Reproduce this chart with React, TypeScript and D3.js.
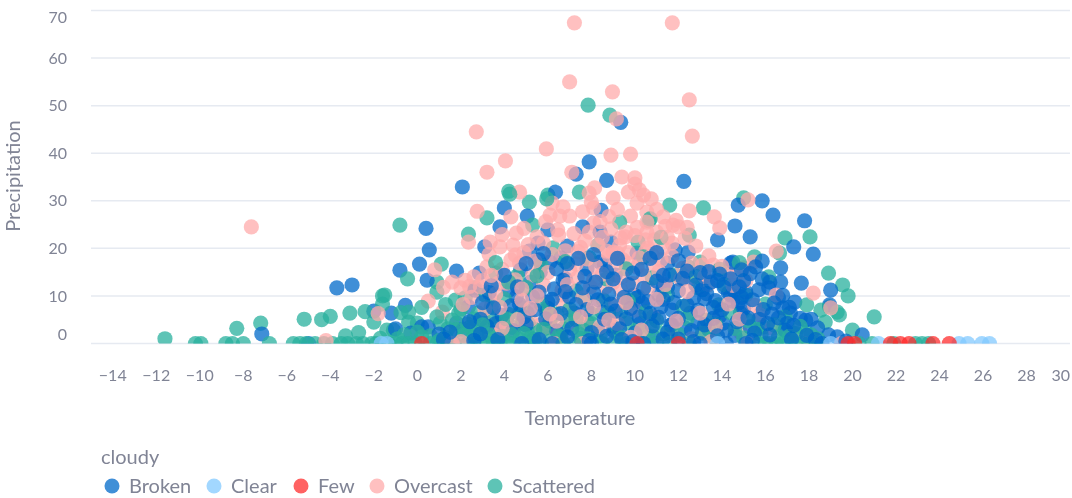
import React from 'react';
import * as d3 from 'd3';

const WIDTH = 1072;
const HEIGHT = 498;

// [temperature, precipitation]
const broken: number[][] = [
  [9.35, 46.5], [7.9, 38.2], [7.3, 35.6], [8.7, 34.3], [2.07, 32.9], [12.25, 34.1], [6.35, 31.8], [4.0, 28.5], [8.45, 28],
  [0.4, 24.2], [3.8, 24.5], [14.75, 29.1], [15.85, 30], [16.35, 27], [17.8, 25.8], [14.6, 24.7], [15.3, 22.4], [13.8, 21.8],
  [17.3, 20.3], [18.2, 18.8], [0.55, 19.7], [3.1, 20.3], [-0.8, 15.4], [1.8, 15.2], [0.1, 16.7], [2.85, 14.8], [-3.7, 11.7],
  [-3, 12.3], [-0.55, 8], [-1.2, 6.4], [-2, 6.8], [-7.15, 2], [16.7, 15.9], [16.7, 12.9], [17.65, 12.7], [17.35, 8.7],
  [18.95, 8.1], [5.05, 26.8], [0.45, 13.3], [6.0, 23.9], [7.6, 24.5], [8.4, 23.4], [8.9, 21.3], [5.55, 21.1], [5.15, 19.4],
  [6.9, 20.5], [6.1, 17.1], [5.6, 17.6], [6.6, 18], [8.4, 17.1], [8.6, 16.6], [7.8, 15.7], [5.65, 15], [4.75, 15.5],
  [6.8, 13.6], [5.2, 12.9], [9.1, 14.4], [10.1, 19], [11.85, 19.7], [11.5, 16.9], [11.5, 11.9], [11.1, 10.2], [9.95, 10.2],
  [4.2, 11.2], [4.55, 9.8], [5.3, 9.8], [2.35, 7.7], [2.65, 11.2], [1.8, 4.3], [2.1, 3], [0.2, 3.5], [0.5, 3.5],
  [-0.3, 2.2], [6, 7.4], [7.2, 6.4], [8.5, 6.6], [7.8, 4.5], [10.25, 4.3], [10.15, 9.8], [11.2, 7.7], [11.7, 7], [9, 2.8],
  [8.3, 2.8], [7.5, 1.1], [5.35, 0.9], [10.85, 1.4], [11.7, 3.9], [11.3, 11.9], [10.35, 8.5], [6, 8.7], [6.7, 13.3],
  [14.4, 16.9], [12.45, 19.2], [12.7, 9.6], [12.55, 6.4], [14.3, 10.6], [14.05, 4.3], [12.3, 3.3], [11.65, 3.9], [15.85, 13.6],
  [16.2, 12.9], [19, 11.2], [16.6, 9.6], [16.8, 7.5], [17.15, 6.4], [17.85, 4.9], [17.6, 5.3], [14.4, 10.2], [14.5, 17.1],
  [15.55, 16.1], [15.85, 17.3], [14.85, 6.4], [15.3, 3.5], [16.15, 11.7], [14.55, 11.2], [14.75, 8.5], [19.3, 1.4], [20.45, 1.8],
  [18.9, 1.8], [16.9, 2.8], [13.2, 9.4], [13.6, 7.6], [13.9, 5.8], [14.9, 9.7], [15.1, 10.8], [13.1, 11.3], [12.9, 4.4],
  [13.4, 2.9], [14.6, 1.7], [15.7, 5.1], [16.3, 6.2], [17, 4.2], [18.1, 5.1], [18.4, 3.3], [3.6, 4.2], [4.3, 7.9], [4.9, 5.6],
  [6.3, 11.5], [7, 9.8], [8.1, 10.7], [8.9, 8.3], [9.6, 5.2], [10.7, 6.3], [3, 8.6], [3.3, 10.7], [-5, 0], [-1, 3.1], [1, 2],
  [2.9, 5.1], [3.2, 3.6], [3.9, 5.9], [4.4, 2.7], [4.7, 8.2], [5, 3.9], [5.4, 7.1], [5.6, 10.8], [5.9, 5.2], [6.2, 9.3], [6.4, 2.6],
  [6.6, 6.3], [6.8, 10.9], [7.1, 3.2], [7.3, 8.2], [7.6, 11.7], [7.8, 7.1], [8, 2.3], [8.2, 12.9], [8.3, 9.2], [8.6, 5.1], [8.8, 10.4],
  [9, 13.6], [9.1, 6.8], [9.3, 3.1], [9.5, 9.7], [9.7, 12.4], [9.8, 7.4], [10, 2.2], [10.2, 5.6], [10.4, 11.6], [10.6, 8.8], [10.8, 3.7],
  [11, 13.1], [11.1, 5.5], [11.3, 9.3], [11.5, 2.4], [11.6, 14.4], [11.8, 8.6], [12, 11.1], [12, 5.3], [12.2, 13.7], [12.4, 8.1],
  [12.6, 2.7], [12.8, 12.3], [12.9, 7], [13, 14.9], [13.2, 3.9], [13.3, 10.5], [13.5, 12.9], [13.6, 5.3], [13.7, 9], [13.9, 14.6],
  [14, 7.1], [14.1, 11.8], [14.2, 2.8], [14.4, 13.6], [14.5, 8.9], [14.7, 4.6], [14.8, 11.9], [15, 7.4], [15, 13.2], [15.2, 5.4],
  [15.4, 9.2], [15.5, 2.2], [15.7, 11.3], [15.9, 7.1], [16.1, 4.2], [16.4, 8.5], [16.6, 5.4], [16.8, 10.1], [17.1, 7.6], [17.3, 3.8],
  [3.4, 12.1], [4, 14.3], [4.6, 11.9], [5, 16.8], [5.8, 18.9], [6.4, 15.7], [6.9, 16.8], [7.4, 17.9], [7.7, 14.1], [8.1, 18.7],
  [8.7, 15.1], [9.2, 17.9], [9.9, 14.8], [10.3, 15.6], [10.7, 17.9], [11, 19.1], [11.3, 14.3], [12, 17.4], [12.4, 15.2], [13.4, 15.1],
  [13.8, 13.2], [14.9, 15.5], [15.3, 14.7], [3.5, 7.5], [2.4, 4.6], [2.9, 2], [1.5, 2.4], [1.2, 0.9], [3.7, 0.8], [5.6, 0.8],
  [6.9, 1.4], [7.9, 0.6], [8.7, 1.5], [9.9, 0.4], [11.3, 0.9], [12.7, 0.4], [13.8, 1.6], [15.4, 0.6], [16.2, 1.8], [17.2, 0.9],
  [17.9, 1.7], [18.3, 0.8], [2.6, 0.6], [4.8, 0], [6.2, 0], [8, 0], [9.4, 0.8], [10.4, 0], [12, 0.9], [13, 0], [14.2, 0], [15.1, 0],
  [19.7, 0.5], [18.6, 0],
];

const clear: number[][] = [
  [-1.66, 0], [-1.4, 0], [13.8, 0], [19, 0], [21.2, 0], [24.9, 0], [25.3, 0], [25.95, 0], [26.3, 0],
];

const few: number[][] = [
  [0.2, 0], [10.1, 0], [12, 0], [19.8, 0], [20.1, 0], [21.75, 0], [22.2, 0], [22.6, 0], [23.7, 0], [24.45, 0],
];

const overcast: number[][] = [
  [7.22, 67.4], [11.72, 67.4], [7, 55], [8.97, 52.9], [12.5, 51.2], [12.64, 43.6], [2.71, 44.5], [5.93, 40.9], [4.05, 38.4],
  [3.2, 36], [8.9, 39.6], [9.8, 39.8], [-7.63, 24.5], [9.15, 47.2], [7.1, 36], [9.4, 35], [10, 34.8], [10, 33.5], [8.15, 32.7],
  [4.7, 31.8], [2.75, 27.8], [9.7, 31.8], [9, 30.6], [7.9, 31.6], [8, 29.7], [8.1, 28.5], [10.1, 29.5], [10.75, 30.4],
  [12.5, 27.9], [13.65, 26.6], [13.9, 24.3], [10.55, 27.6], [9.8, 26.8], [11.3, 26.6], [12, 24.5], [12.4, 24.4], [11.4, 24.6],
  [10.55, 23.4], [9.55, 22.4], [8.1, 25.3], [4.3, 26.6], [4.55, 23.2], [6.2, 29.5], [6.7, 28.7], [6.55, 26.8], [6.1, 27],
  [6.45, 23.9], [2.35, 21.3], [3.8, 20.3], [3.35, 21.3], [4.4, 20.7], [4.3, 17.6], [4.5, 18.6], [3.2, 16.1], [2.2, 13.3], [2, 11.7],
  [0.5, 8.9], [0.8, 15.5], [1.15, 6.6], [3.45, 9.1], [3.05, 4.9], [10.55, 25.5], [11.75, 24.9], [9.35, 22.2], [9, 19.2],
  [9.45, 17.6], [10.1, 16.1], [10.85, 16.5], [11.3, 20.1], [10.6, 20.1], [7, 15.5], [7.35, 13.8], [7.95, 11.9], [8.65, 11.9],
  [9.35, 11.2], [6.65, 11.2], [5.8, 12.3], [6.7, 8.1], [7.7, 4.3], [7.05, 3.9], [6.1, 3.5], [5.65, 3.9], [6.6, 1.8], [10, 7],
  [10.6, 11.7], [11.65, 1.8], [6.65, 10.2], [7.8, 4.1], [6, 3.3], [11.65, 2.2], [13.25, 2.2], [9.2, 19], [9.65, 16.9], [10.5, 19.4],
  [13.35, 12.3], [13.1, 16.5], [13.6, 16.5], [14.25, 14.8], [12.55, 13.8], [9.1, 8.1], [10.85, 5.6], [16.5, 19.4], [18.2, 10.6],
  [15.45, 17.1], [15, 15.9], [14.6, 14], [14.95, 6.6], [15.75, 6], [14.85, 2.4], [17.25, 2.2], [16.3, 3.3], [19, 7.5], [15.2, 30.2],
  [5.1, 20.8], [5.5, 22.4], [3.9, 22.9], [4.9, 24.2], [3, 13.2], [2.6, 14], [3.7, 12.6], [4.5, 13.4], [2.5, 9.7], [3.1, 7.3],
  [1.2, 11.8], [7.4, 19.3], [7.7, 21.6], [8.3, 20.7], [8.8, 18.6], [8.5, 22.3], [10, 22.7], [10.9, 21.8], [11.7, 21.1], [11.1, 15.1],
  [12.2, 15.8], [5.2, 5], [4.1, 3.8], [3.5, 1.8], [8.4, 3.5], [9.2, 4.2], [12.6, 1],
  [3.3, 18.7], [3.9, 15.6], [4.1, 12.7], [4.7, 16.9], [4.9, 19.1], [5.3, 14.4], [5.4, 17.3], [5.8, 21.1], [6, 14.9], [6.2, 18.7],
  [6.5, 22.8], [6.8, 19.5], [6.9, 12.4], [7.2, 23.1], [7.3, 16.7], [7.5, 20.2], [7.6, 9.6], [7.8, 17.8], [7.9, 23.4], [8.1, 13.4],
  [8.2, 16.2], [8.4, 25.6], [8.5, 14.6], [8.7, 19.4], [8.9, 24.1], [9, 12.8], [9.1, 16.5], [9.3, 20.6], [9.4, 14], [9.6, 23.4],
  [9.7, 19.1], [9.9, 12.6], [10.1, 24.4], [10.2, 18], [10.4, 14.2], [10.5, 21.8], [10.8, 18.6], [11, 23.4], [11.2, 17.6], [11.4, 12.4],
  [11.5, 22.3], [11.7, 18.3], [11.9, 25.9], [12.1, 13.5], [12.3, 22.1], [12.6, 16.9], [12.8, 20.5], [13.2, 14.1], [13.4, 18.4], [14, 16.2],
  [14.5, 12.2], [15.1, 13.2], [4.8, 9.1], [5.2, 7.4], [5.5, 10], [6.1, 6.2], [6.4, 4.7], [7.5, 5.6], [8.1, 7.7], [8.8, 4.9], [9.6, 8.6],
  [10.3, 2.8], [11, 9.3], [11.9, 4.7], [12.4, 10.9], [13, 6.4], [13.7, 3.6], [14.3, 8.3], [14.8, 5.1], [15.5, 8], [16.5, 10.2], [3.9, 3.2],
  [4.6, 5], [2.9, 11.9], [3.6, 10.4], [2.1, 8.2], [1.6, 12.9], [5.9, 25.6], [7, 26.8], [7.6, 27.7], [9.2, 28.2], [8.8, 26.7], [10.4, 31.2],
  [10.2, 32.3], [11, 28.2], [2.4, 12], [3.4, 14.3], [4.8, 11.5], [3.8, 7.6], [-4.2, 0.6], [-1.8, 6.3], [1.6, 0], [2, 0.4], [6.3, 0],
  [7.6, 0], [9.8, 1.3], [13.5, 0.4], [17.9, 0], [15.2, 0], [19.5, 0],
];

const scattered: number[][] = [
  [7.85, 50.1], [8.85, 48], [4.2, 32], [7.45, 31.8], [6, 31.2], [5.15, 29.7], [15, 30.6], [11.6, 29.1], [13.15, 28.5], [12.5, 22.8],
  [2.35, 23], [-0.8, 24.9], [3.2, 26.4], [10.65, 25.8], [16.9, 22.2], [18.05, 22.4], [16.65, 19], [18.9, 14.8], [19.55, 12.3],
  [19.8, 10], [18.95, 7.7], [19.4, 6], [21, 5.6], [20, 2.8], [-11.6, 1], [-8.3, 3.2], [-7.2, 4.3], [-5.2, 5.1], [-4.4, 5], [-4, 5.7],
  [-3.1, 6.4], [-2.4, 6.7], [-1.6, 8.3], [-1.6, 10], [-2, 4.5], [1.1, 16.7], [-0.45, 13.6], [0.9, 12.9], [0.9, 10.8], [-1.5, 10.2],
  [5.3, 24.9], [4.25, 31.4], [5.95, 30.4], [9.3, 25.5], [10.7, 26.2], [3.6, 14.8], [1.75, 9.1], [2.2, 9.6], [2.65, 11.7], [-0.4, 6.6],
  [-0.75, 6.5], [-0.4, 4.5], [-1.4, 2.8], [-1.1, 2.8], [0, 4.3], [1.05, 4.3], [4.85, 7.5], [5.95, 6.6], [7.7, 9.1], [8.55, 9.1],
  [6.25, 20.1], [8.3, 20.7], [10.15, 21.3], [11.85, 14.4], [9.95, 9.1], [3.8, 2.8], [3.2, 2.8], [2.75, 2.4], [4.85, 4.5], [5.05, 2.8],
  [5.95, 3.5], [9, 3.5], [9.65, 4.3], [15.5, 18.2], [15.1, 10.2], [18.55, 7], [19.3, 6.6], [17.9, 8.1], [16, 8.3], [18.75, 4.5],
  [16.15, 14], [15.9, 3.5], [16.8, 2.8], [17.85, 2.4], [6, 7], [5.05, 6.4], [13.85, 8.1], [13.3, 4.9], [9.35, 6.6], [12.45, 16.1],
  [10.8, 13.8], [13, 17.1], [12.9, 11.7], [4.6, 14.2], [5.7, 16.4], [7.3, 11], [3.4, 5.6], [4.2, 6.1], [2.6, 5.2], [1.9, 6.4],
  [0.6, 1.6], [1.4, 3.1], [6.9, 4.8], [8, 6.3], [10.7, 3.3], [11.3, 2.1], [12.2, 7.8], [14.1, 12.4], [16.9, 5.6], [17.4, 2.1],
  [0.2, 7.6], [0.9, 5.6], [1.3, 8.2], [1.6, 4.9], [2, 7.2], [2.4, 3.4], [2.8, 6.4], [3.1, 10.2], [3.4, 7.8], [3.7, 4.3], [4, 9.4],
  [4.4, 3.4], [4.7, 6.3], [5.1, 4.2], [5.4, 2.9], [5.7, 8.2], [6.1, 4.7], [6.4, 6.2], [6.7, 3.1], [7, 7.2], [7.3, 5], [7.6, 2.9],
  [8, 4.2], [8.4, 1.6], [8.8, 6.4], [9.2, 1.9], [9.7, 8.9], [10.1, 3], [10.5, 6.6], [11, 4.8], [11.5, 10.2], [12, 1.9], [12.4, 5.2],
  [13.1, 2.2], [13.7, 4], [14.4, 6.5], [15.2, 4.8], [15.8, 1.9], [16.4, 3.9], [17.1, 1.5], [18.1, 1.8], [3.6, 17], [4.2, 12.9], [5, 11.8],
  [5.5, 14.2], [6.8, 17.2], [7.9, 18], [8.7, 13.6], [9.6, 15.7], [10.4, 18.2], [11.2, 22.3], [12.8, 14.1], [13.9, 15.6], [14.8, 17],
  [1.8, 2.9], [2.3, 4.1], [3, 3.9], [4.1, 5.2], [3.3, 1.8], [4.9, 2.1], [5.8, 3], [6.6, 1.2], [7.8, 1], [9.4, 1.2], [10.6, 1.6], [13.6, 1.4],
  [14.6, 3.2], [15, 1.2], [15.6, 3], [16.6, 1.4], [17.6, 3.6], [18.4, 1], [1, 0.6], [0, 2.4], [-0.6, 1.8],
  [-3.3, 1.6], [-2.7, 2.3], [-1.7, 1.1], [-0.9, 1], [0.2, 1.4], [2.1, 1.7], [3.5, 1.1], [4.3, 1.9], [5.2, 1.2], [6.5, 1.6], [7.4, 2.1],
  [1.3, 1.2], [2.6, 1.4], [3.9, 1.5], [4.7, 0.8], [5.4, 0.6], [6.1, 0.5],
  [-10.2, 0], [-9.95, 0], [-8.8, 0], [-8.5, 0], [-8, 0], [-6.8, 0], [-5.7, 0], [-5.4, 0], [-5.1, 0], [-4.7, 0], [-4.3, 0], [-3.9, 0],
  [-3.5, 0], [-3.2, 0], [-2.8, 0], [-2.5, 0], [-2.1, 0], [-1.9, 0], [-1.3, 0], [-1, 0], [-0.7, 0], [-0.4, 0], [-0.1, 0], [0.6, 0],
  [0.9, 0], [1.1, 0], [1.4, 0], [1.7, 0], [2.3, 0], [2.6, 0], [2.9, 0], [3.2, 0], [3.5, 0], [3.8, 0], [4.1, 0], [4.4, 0], [5, 0],
  [5.7, 0], [6.7, 0], [7.2, 0], [8.5, 0], [9, 0], [9.6, 0], [10.3, 0], [11, 0], [11.6, 0], [12.5, 0], [15.7, 0], [16, 0], [16.2, 0],
  [16.5, 0], [16.8, 0], [17.1, 0], [17.4, 0], [17.7, 0], [18, 0], [18.3, 0], [20.3, 0], [20.9, 0], [21.9, 0], [22.9, 0], [23.2, 0],
  [23.5, 0],
];

const categories = ['Broken', 'Clear', 'Few', 'Overcast', 'Scattered'];
const colors = ['#0068c9', '#83c9ff', '#ff2b2b', '#ffabab', '#29b09d'];
const xTicks = [-14, -12, -10, -8, -6, -4, -2, 0, 2, 4, 6, 8, 10, 12, 14, 16, 18, 20, 22, 24, 26, 28, 30];
const yTicks = [0, 10, 20, 30, 40, 50, 60, 70];
const legendX = [112, 214, 301, 377, 495];

const FONT = 'Lato, sans-serif';
const TEXT = '#808495';
const GRID = '#e6eaf1';

export default function App() {
  const x = d3.scaleLinear().domain([-15, 30]).range([91, 1070]);
  const y = d3.scaleLinear().domain([0, 70]).range([343.5, 10.5]);
  const color = d3.scaleOrdinal<string, string>().domain(categories).range(colors);
  const fmt = d3.format('d');

  // rows come in data order, so the clouds mix instead of stacking by series
  const mixed = [
    { name: 'Broken', values: broken },
    { name: 'Overcast', values: overcast },
    { name: 'Scattered', values: scattered },
  ];
  const count = d3.max(mixed, (s) => s.values.length) || 0;
  const rows: { c: string; t: number; p: number }[] = [];
  for (let i = 0; i < count; i++) {
    mixed.forEach((s) => {
      if (s.values[i]) rows.push({ c: s.name, t: s.values[i][0], p: s.values[i][1] });
    });
  }
  // the two small groups stay visible on top of the baseline row
  clear.forEach((d) => rows.push({ c: 'Clear', t: d[0], p: d[1] }));
  few.forEach((d) => rows.push({ c: 'Few', t: d[0], p: d[1] }));

  return (
    <svg width={WIDTH} height={HEIGHT} style={{ position: 'absolute', left: 0, top: 0 }} fontFamily={FONT}>
      <defs>
        <clipPath id="plot">
          <rect x={91} y={0} width={979} height={343.5} />
        </clipPath>
        <filter id="soft" x="-5%" y="-5%" width="110%" height="110%">
          <feGaussianBlur stdDeviation="0.5" />
        </filter>
      </defs>
      <g filter="url(#soft)">
        {yTicks.map((t) => (
          <line key={t} x1={91} x2={1070} y1={y(t)} y2={y(t)} stroke={GRID} strokeWidth={1.5} />
        ))}
        <g clipPath="url(#plot)">
          {rows.map((d, i) => (
            <circle key={i} cx={x(d.t)} cy={y(d.p)} r={7.6} fill={color(d.c)} fillOpacity={0.75} />
          ))}
        </g>
        {yTicks.map((t) => {
          // first and last labels are kept inside the plot
          const ly = t === 0 ? y(t) - 9.5 : t === 70 ? y(t) + 6.5 : y(t);
          return (
            <text key={t} x={67} y={ly} dy="0.35em" textAnchor="end" fontSize={16} fill={TEXT}>
              {fmt(t)}
            </text>
          );
        })}
        {xTicks.map((t) => (
          <text
            key={t}
            x={t === 30 ? 1070 : x(t)}
            y={375}
            dy="0.35em"
            textAnchor={t === 30 ? 'end' : 'middle'}
            fontSize={16}
            fill={TEXT}
          >
            {fmt(t)}
          </text>
        ))}
        <text x={580} y={425} textAnchor="middle" fontSize={20} fill={TEXT}>
          Temperature
        </text>
        <text transform="translate(20,176) rotate(-90)" textAnchor="middle" fontSize={20} fill={TEXT}>
          Precipitation
        </text>
        <text x={101} y={464} fontSize={20} fill={TEXT}>
          cloudy
        </text>
        {categories.map((c, i) => (
          <g key={c}>
            <circle cx={legendX[i]} cy={486} r={7.5} fill={color(c)} fillOpacity={0.75} />
            <text x={legendX[i] + 17} y={493} fontSize={20} fill={TEXT}>
              {c}
            </text>
          </g>
        ))}
      </g>
    </svg>
  );
}
